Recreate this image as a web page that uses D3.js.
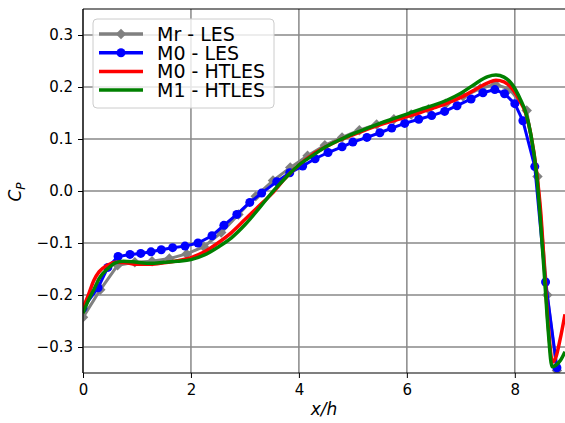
<!DOCTYPE html>
<html><head><meta charset="utf-8">
<script src="https://cdn.jsdelivr.net/npm/d3@7"></script>
<style>body{margin:0;background:#fff}svg{display:block}text{font-family:"DejaVu Sans",sans-serif}</style>
</head><body><svg id="c" width="565" height="423"></svg>
<script>
// ---- data ----
const mrX = [0,0.32,0.64,0.96,1.28,1.6,1.92,2.24,2.56,2.88,3.2,3.52,3.84,4.16,4.48,4.8,5.12,5.44,5.76,6.08,6.4,6.72,7.04,7.36,7.64,7.9,8.22,8.42,8.6,8.78];
const mrY = [-0.243,-0.19,-0.143,-0.137,-0.135,-0.13,-0.121,-0.107,-0.08,-0.045,-0.01,0.02,0.045,0.068,0.088,0.103,0.117,0.128,0.138,0.147,0.157,0.168,0.182,0.197,0.205,0.196,0.155,0.028,-0.2,-0.345];
const m0lesX = [0,0.28,0.46,0.65,0.87,1.07,1.26,1.45,1.66,1.89,2.13,2.39,2.61,2.85,3.09,3.31,3.59,3.83,4.07,4.3,4.54,4.8,5.0,5.26,5.5,5.72,5.96,6.22,6.46,6.7,6.93,7.19,7.41,7.63,7.81,8.0,8.15,8.37,8.57,8.78];
const m0lesY = [-0.225,-0.186,-0.147,-0.126,-0.122,-0.12,-0.117,-0.113,-0.109,-0.106,-0.1,-0.086,-0.066,-0.045,-0.022,-0.004,0.018,0.035,0.048,0.062,0.074,0.085,0.094,0.103,0.112,0.121,0.13,0.138,0.145,0.153,0.164,0.177,0.189,0.195,0.187,0.168,0.135,0.047,-0.175,-0.34];
const m0htX = [0,0.1,0.2,0.3,0.45,0.6,0.8,1.0,1.25,1.5,1.75,2.0,2.25,2.5,2.75,3.0,3.25,3.5,3.75,4.0,4.25,4.5,4.75,5.0,5.25,5.5,5.75,6.0,6.25,6.5,6.75,7.0,7.25,7.5,7.65,7.8,7.95,8.1,8.2,8.3,8.4,8.48,8.55,8.62,8.7,8.76,8.84,8.93];
const m0htY = [-0.225,-0.2,-0.172,-0.155,-0.143,-0.137,-0.138,-0.141,-0.141,-0.138,-0.134,-0.128,-0.117,-0.1,-0.08,-0.055,-0.03,-0.005,0.025,0.05,0.07,0.085,0.098,0.108,0.118,0.127,0.135,0.143,0.151,0.16,0.169,0.18,0.194,0.208,0.213,0.21,0.197,0.172,0.15,0.107,0.04,-0.04,-0.15,-0.26,-0.329,-0.32,-0.285,-0.237];
const m1htX = [0,0.1,0.2,0.3,0.45,0.6,0.75,1.0,1.25,1.5,1.75,2.0,2.25,2.5,2.75,3.0,3.25,3.5,3.75,4.0,4.25,4.5,4.75,5.0,5.25,5.5,5.75,6.0,6.25,6.5,6.75,7.0,7.25,7.5,7.65,7.8,7.95,8.1,8.2,8.3,8.4,8.47,8.55,8.62,8.69,8.76,8.85,8.93];
const m1htY = [-0.235,-0.21,-0.19,-0.168,-0.15,-0.138,-0.135,-0.137,-0.139,-0.137,-0.135,-0.132,-0.123,-0.108,-0.09,-0.065,-0.035,-0.003,0.025,0.05,0.068,0.085,0.098,0.11,0.12,0.13,0.139,0.148,0.157,0.165,0.175,0.188,0.205,0.22,0.223,0.219,0.205,0.177,0.152,0.107,0.035,-0.05,-0.165,-0.27,-0.338,-0.335,-0.325,-0.309];
const xTicks = [0,2,4,6,8];
const yTicks = [-0.3,-0.2,-0.1,0.0,0.1,0.2,0.3];
const legendLabels = ["Mr - LES","M0 - LES","M0 - HTLES","M1 - HTLES"];

// ---- layout ----
const svg = d3.select("#c");
const L=83, T=9, R=565, B=373;
const x = d3.scaleLinear().domain([0,8.93]).range([L,R]);
const y = d3.scaleLinear().domain([-0.35,0.35]).range([B,T]);

// grid
const g = svg.append("g");
g.selectAll(".gx").data(xTicks).enter().append("line")
 .attr("x1",d=>x(d)).attr("x2",d=>x(d)).attr("y1",T).attr("y2",B)
 .attr("stroke","#888").attr("stroke-width",1.5);
g.selectAll(".gy").data(yTicks).enter().append("line")
 .attr("x1",L).attr("x2",R).attr("y1",d=>y(d)).attr("y2",d=>y(d))
 .attr("stroke","#888").attr("stroke-width",1.5);

svg.append("clipPath").attr("id","clip").append("rect").attr("x",L).attr("y",T).attr("width",R-L).attr("height",B-T);
const plot = svg.append("g").attr("clip-path","url(#clip)");

const zip=(a,b)=>a.map((v,i)=>[v,b[i]]);
const lin = d3.line().x(d=>x(d[0])).y(d=>y(d[1]));
const smooth = d3.line().x(d=>x(d[0])).y(d=>y(d[1])).curve(d3.curveMonotoneX);

const mr = zip(mrX,mrY), m0 = zip(m0lesX,m0lesY), r = zip(m0htX,m0htY), gr = zip(m1htX,m1htY);
plot.append("path").attr("d",lin(mr)).attr("fill","none").attr("stroke","#808080").attr("stroke-width",3);
const diamond = d3.symbol().type(d3.symbolDiamond2).size(70);
plot.selectAll(".mrm").data(mr).enter().append("path").attr("d",diamond)
 .attr("transform",d=>`translate(${x(d[0])},${y(d[1])})`).attr("fill","#808080");
plot.append("path").attr("d",lin(m0)).attr("fill","none").attr("stroke","#0000ff").attr("stroke-width",3);
plot.selectAll(".m0m").data(m0).enter().append("circle").attr("cx",d=>x(d[0])).attr("cy",d=>y(d[1])).attr("r",4.5).attr("fill","#0000ff");
plot.append("path").attr("d",smooth(r)).attr("fill","none").attr("stroke","#ff0000").attr("stroke-width",3.5);
plot.append("path").attr("d",smooth(gr)).attr("fill","none").attr("stroke","#008000").attr("stroke-width",3.5);

// axes
const fmt = d=> (d<0?"\u2212":"")+Math.abs(d).toFixed(1);
const ax = svg.append("g").attr("transform",`translate(0,${B})`)
 .call(d3.axisBottom(x).tickValues(xTicks).tickFormat(d3.format("d")).tickSize(5).tickPadding(6));
const ay = svg.append("g").attr("transform",`translate(${L},0)`)
 .call(d3.axisLeft(y).tickValues(yTicks).tickFormat(fmt).tickSize(5).tickPadding(5));
[ax,ay].forEach(a=>{a.select(".domain").remove();a.selectAll("text").attr("font-size",15).attr("font-family","DejaVu Sans").attr("fill","#000");a.selectAll("line").attr("stroke","#000").attr("stroke-width",1);});
// spines
svg.append("line").attr("x1",L).attr("x2",R).attr("y1",B).attr("y2",B).attr("stroke","#000").attr("stroke-width",1.2);
svg.append("line").attr("x1",L).attr("x2",R).attr("y1",T).attr("y2",T).attr("stroke","#000").attr("stroke-width",1.2);
svg.append("line").attr("x1",L).attr("x2",L).attr("y1",T).attr("y2",B).attr("stroke","#000").attr("stroke-width",1.2);

// labels
svg.append("text").attr("x",(L+R)/2).attr("y",415).attr("text-anchor","middle").attr("font-size",17).attr("font-style","italic").text("x/h");
const yl = svg.append("text").attr("transform","translate(21,192) rotate(-90)").attr("text-anchor","middle").attr("font-size",17);
yl.append("tspan").attr("font-style","italic").text("C");
yl.append("tspan").attr("font-style","italic").attr("font-size",12).attr("dy",4).text("P");

// legend
const lg = svg.append("g");
lg.append("rect").attr("x",93).attr("y",19).attr("width",181).attr("height",89).attr("rx",4)
 .attr("fill","#fff").attr("fill-opacity",0.8).attr("stroke","#ccc").attr("stroke-width",1);
const styles=[{c:"#808080",m:"d"},{c:"#0000ff",m:"o"},{c:"#ff0000"},{c:"#008000"}];
legendLabels.forEach((t,i)=>{
  const cy = 34 + i*18.7;
  lg.append("line").attr("x1",99).attr("x2",143).attr("y1",cy).attr("y2",cy).attr("stroke",styles[i].c).attr("stroke-width",3.5);
  if(styles[i].m==="d") lg.append("path").attr("d",diamond).attr("transform",`translate(121,${cy})`).attr("fill",styles[i].c);
  if(styles[i].m==="o") lg.append("circle").attr("cx",121).attr("cy",cy).attr("r",4.5).attr("fill",styles[i].c);
  lg.append("text").attr("x",157).attr("y",cy+7).attr("font-size",19).attr("fill","#000").text(t);
});
</script></body></html>
